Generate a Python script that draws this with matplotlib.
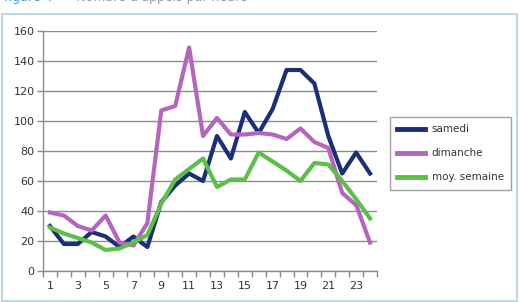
import numpy as np
import matplotlib
matplotlib.use("Agg")
import matplotlib.pyplot as plt
from matplotlib.patches import Rectangle

# ----------------------------------------------------------------------------
# Data: number of calls per hour
# ----------------------------------------------------------------------------
hours = list(range(1, 25))
samedi = [30, 18, 18, 26, 23, 16, 23, 16, 46, 57, 65, 60,
          90, 75, 106, 92, 108, 134, 134, 125, 90, 65, 79, 65]
dimanche = [39, 37, 30, 27, 37, 19, 17, 32, 107, 110, 149, 90,
            102, 91, 91, 92, 91, 88, 95, 86, 82, 52, 44, 19]
moy_semaine = [29, 25, 22, 19, 14, 15, 19, 24, 45, 61, 68, 75,
               56, 61, 61, 79, 73, 67, 60, 72, 71, 60, 48, 35]
series_names = ["samedi", "dimanche", "moy. semaine"]
colors = ["#1b2f78", "#b466bd", "#5dbf4a"]

fig = plt.figure(figsize=(5.2, 3.02), dpi=100)

# light blue frame around the chart
fig.patches.append(Rectangle((2 / 520, 1.5 / 302), 515 / 520, 287 / 302,
                             transform=fig.transFigure, fill=False,
                             edgecolor="#b9dbe8", linewidth=1.5))

# title cut off at the top of the picture
fig.text(4 / 520, 1.008, "figure 4", fontsize=9, color="#3aa0d8",
         va="center", ha="left")
fig.text(62 / 520, 1.008, "–  Nombre d'appels par heure",
         fontsize=9, color="#9a9a9a", va="center", ha="left")

ax = fig.add_axes([43 / 520, 31 / 302, 334 / 520, 240 / 302])

for vals, name, c in zip([samedi, dimanche, moy_semaine], series_names, colors):
    ax.plot(hours, vals, color=c, linewidth=3, label=name, zorder=3)

ax.set_xlim(0.5, 24.5)
ax.set_ylim(0, 160)
ax.set_yticks(np.arange(0, 161, 20))
ax.yaxis.grid(True, color="#8c8c8c", linewidth=1)
ax.set_axisbelow(True)

# category ticks between the hours, labels on odd hours
ax.set_xticks(hours[::2])
ax.set_xticks(np.arange(0.5, 25, 1), minor=True)
ax.tick_params(axis="x", which="major", length=0, pad=7,
               labelsize=8, labelcolor="#333333")
ax.tick_params(axis="x", which="minor", length=4, color="#8c8c8c", width=1)
ax.tick_params(axis="y", length=4, color="#8c8c8c", width=1,
               labelsize=8, labelcolor="#333333", pad=2)

for side in ["top", "right"]:
    ax.spines[side].set_visible(False)
for side in ["left", "bottom"]:
    ax.spines[side].set_color("#8c8c8c")
    ax.spines[side].set_linewidth(1)

leg = fig.legend(loc="upper left", bbox_to_anchor=(390 / 520, 1 - 117 / 302),
                 fontsize=7.5, frameon=True, fancybox=False, edgecolor="#8c8c8c",
                 handlelength=2.7, labelspacing=1.35, borderpad=0.7,
                 handletextpad=0.6, borderaxespad=0)
leg.get_frame().set_linewidth(1)
for t in leg.get_texts():
    t.set_color("#333333")
for line in leg.get_lines():
    line.set_linewidth(3.5)

fig.savefig("out.png", dpi=100)
